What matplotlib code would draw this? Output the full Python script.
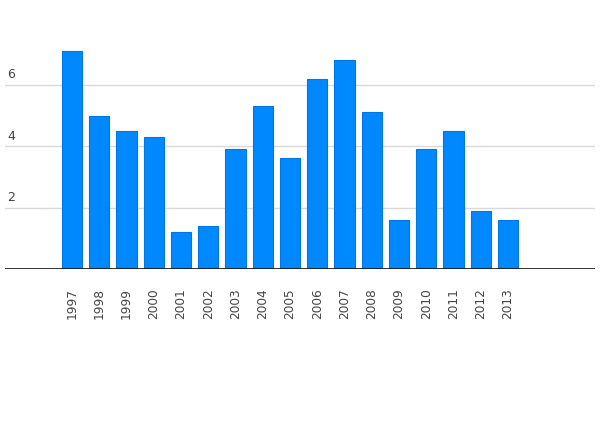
import numpy as np
import matplotlib
matplotlib.use("Agg")
import matplotlib.pyplot as plt

years = ['1997', '1998', '1999', '2000', '2001', '2002', '2003', '2004', '2005',
         '2006', '2007', '2008', '2009', '2010', '2011', '2012', '2013']
values = [7.1, 5.0, 4.5, 4.3, 1.2, 1.4, 3.9, 5.3, 3.6,
          6.2, 6.8, 5.1, 1.6, 3.9, 4.5, 1.9, 1.6]
yticks = [2, 4, 6]

fig = plt.figure(figsize=(6, 4.42), dpi=100)
ax = fig.add_axes([5 / 600, 1 - 269 / 442, 590 / 600, 240 / 442])

x = np.arange(len(years))
ax.bar(x, values, width=0.74, color='#0088ff', edgecolor='#0077e0', linewidth=0.8, zorder=3)

for t in yticks:
    ax.axhline(t, color='#d9d9d9', linewidth=1, zorder=1)
    ax.text(0.004, t + 0.33, str(t), transform=ax.get_yaxis_transform(),
            ha='left', va='center', fontsize=9, color='#444444')
ax.axhline(0, color='#111111', linewidth=1.2, zorder=4)

ax.set_xlim(-2.46, 19.19)
ax.set_ylim(0, 240 / 30.7)
ax.set_xticks(x)
ax.set_xticklabels(years, rotation=90, fontsize=8.7, color='#444444')
ax.tick_params(axis='x', length=0, pad=14)
ax.set_yticks([])
for s in ax.spines.values():
    s.set_visible(False)

fig.savefig('out.png', dpi=100)
